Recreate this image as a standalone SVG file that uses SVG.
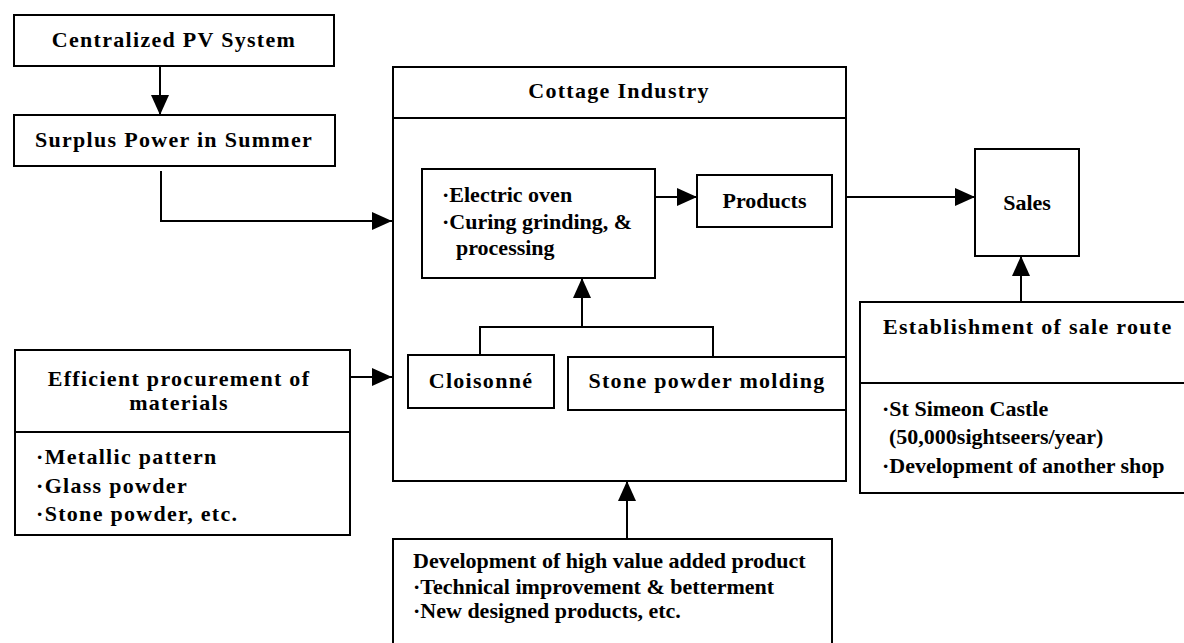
<svg xmlns="http://www.w3.org/2000/svg" width="1184" height="643" viewBox="0 0 1184 643">
<style>
.box{fill:#fff;stroke:#000;stroke-width:2}
.div{stroke:#000;stroke-width:2}
.t{font-family:"Liberation Serif","Times New Roman",serif;font-weight:bold;font-size:22px;fill:#000}
.sp{letter-spacing:1.3px}
.c{text-anchor:middle}
.ln{fill:none;stroke:#000;stroke-width:2}
</style>
<defs>
<marker id="ah" markerUnits="userSpaceOnUse" markerWidth="20" markerHeight="20" viewBox="0 0 20 20" refX="20" refY="10" orient="auto">
<path d="M0,1 L20,10 L0,19 Z" fill="#000"/>
</marker>
</defs>
<rect width="1184" height="643" fill="#fff"/>

<g id="centralized-pv">
<rect class="box" x="14" y="15" width="320" height="51"/>
<text class="t sp c" x="174" y="47">Centralized PV System</text>
</g>

<g id="surplus-power">
<rect class="box" x="14" y="115" width="321" height="51"/>
<text class="t sp c" x="174" y="147">Surplus Power in Summer</text>
</g>

<g id="cottage-industry">
<rect class="box" x="393" y="67" width="453" height="414"/>
<line class="div" x1="393" y1="118" x2="846" y2="118"/>
<text class="t sp c" x="619" y="98">Cottage Industry</text>
</g>

<g id="oven">
<rect class="box" x="422" y="169" width="233" height="109"/>
<text class="t" x="442" y="202">·Electric oven</text>
<text class="t" x="442" y="229">·Curing grinding, &amp;</text>
<text class="t" x="456" y="255">processing</text>
</g>

<g id="products">
<rect class="box" x="697" y="175" width="135" height="52"/>
<text class="t c" x="764.5" y="208">Products</text>
</g>

<g id="cloisonne">
<rect class="box" x="408" y="355" width="146" height="53"/>
<text class="t sp c" x="481" y="388">Cloisonné</text>
</g>

<g id="stone-powder">
<rect class="box" x="568" y="357" width="278" height="53"/>
<text class="t sp c" x="707" y="388">Stone powder molding</text>
</g>

<g id="procurement">
<rect class="box" x="15" y="350" width="335" height="185"/>
<line class="div" x1="15" y1="432" x2="350" y2="432"/>
<text class="t sp c" x="179" y="386">Efficient procurement of</text>
<text class="t sp c" x="179" y="410">materials</text>
<text class="t sp" x="36" y="464">·Metallic pattern</text>
<text class="t sp" x="36" y="493">·Glass powder</text>
<text class="t sp" x="36" y="521">·Stone powder, etc.</text>
</g>

<g id="sales">
<rect class="box" x="975" y="149" width="104" height="107"/>
<text class="t c" x="1027" y="210">Sales</text>
</g>

<g id="sale-route">
<rect class="box" x="860" y="302" width="328" height="191"/>
<line class="div" x1="860" y1="383" x2="1188" y2="383"/>
<text class="t sp" x="883" y="334">Establishment of sale route</text>
<text class="t" x="882" y="416">·St Simeon Castle</text>
<text class="t" x="889" y="444">(50,000sightseers/year)</text>
<text class="t" x="882" y="473">·Development of another shop</text>
</g>

<g id="high-value">
<rect class="box" x="393" y="539" width="439" height="110"/>
<text class="t" x="413" y="568">Development of high value added product</text>
<text class="t" x="413" y="594">·Technical improvement &amp; betterment</text>
<text class="t" x="413" y="618">·New designed products, etc.</text>
</g>

<g id="connectors">
<line class="ln" x1="160" y1="66" x2="160" y2="115" marker-end="url(#ah)"/>
<polyline class="ln" points="161,171 161,221 392,221" marker-end="url(#ah)"/>
<line class="ln" x1="350" y1="377" x2="392" y2="377" marker-end="url(#ah)"/>
<line class="ln" x1="655" y1="197" x2="697" y2="197" marker-end="url(#ah)"/>
<line class="ln" x1="846" y1="197" x2="975" y2="197" marker-end="url(#ah)"/>
<polyline class="ln" points="480,354 480,327 713,327 713,357"/>
<line class="ln" x1="582" y1="327" x2="582" y2="278" marker-end="url(#ah)"/>
<line class="ln" x1="627" y1="538" x2="627" y2="481" marker-end="url(#ah)"/>
<line class="ln" x1="1021" y1="302" x2="1021" y2="256" marker-end="url(#ah)"/>
</g>
</svg>
